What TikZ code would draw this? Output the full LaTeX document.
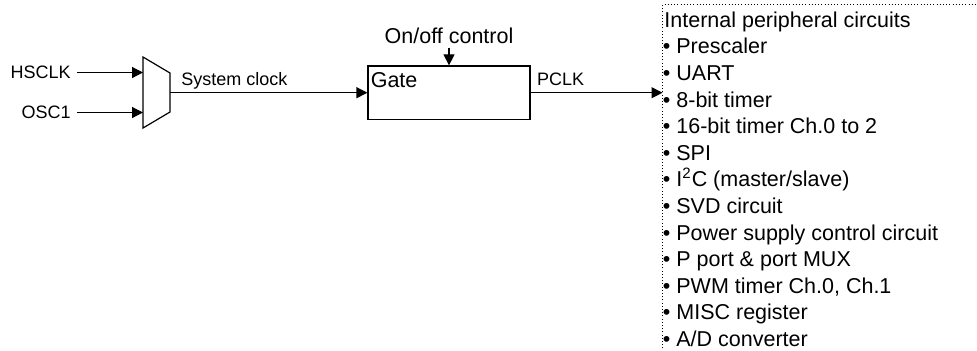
\documentclass[tikz,border=0pt]{standalone}
\usepackage{fontspec}
\setmainfont{Liberation Sans}
\usetikzlibrary{arrows.meta, positioning, calc}

\begin{document}
\begin{tikzpicture}[x=0.5pt, y=-0.5pt,
    sig/.style={line width=0.6pt, -{Triangle[length=5.5pt, width=5.5pt]}},
    smalltxt/.style={font=\fontsize{9}{10.8}\selectfont, inner sep=0pt},
    bigtxt/.style={font=\fontsize{10.75}{13.3}\selectfont, inner sep=0pt},
    gatebox/.style={draw, line width=0.6pt, minimum width=81pt, minimum height=26.75pt, inner sep=0pt},
    dotline/.style={line width=0.5pt, dash pattern=on 0.5pt off 1.1pt}]
  \useasboundingbox (0,0) rectangle (977,350);
  % Clock sources
  \node[smalltxt, inner xsep=3pt, anchor=east] (hsclk) at (77,72.5) {HSCLK};
  \node[smalltxt, inner xsep=3pt, anchor=east] (osc1) at (77,112.5) {OSC1};
  % Selector
  \draw[line width=0.6pt] (143,57) -- (170,73) -- (170,112) -- (143,128) -- cycle;
  \coordinate (muxin1) at (143,72.5);
  \coordinate (muxin2) at (143,112.5);
  \coordinate (muxout) at (170,92.7);
  \draw[sig] (hsclk) -- (muxin1);
  \draw[sig] (osc1) -- (muxin2);
  % Gate
  \node[gatebox, label={[bigtxt, anchor=north west, inner xsep=1.5pt, inner ysep=3.5pt]north west:Gate}]
    (gate) at (449,92.7) {};
  \node[bigtxt, inner sep=2pt, anchor=base] (onoff) at (449,43) {On/off control};
  \draw[sig] (onoff) -- (gate);
  \draw[sig] (muxout) -- (gate);
  \node[smalltxt, anchor=base west] (sysclk) at ($(muxout)+(11,-7)$) {System clock};
  % Peripheral block
  \node[inner sep=0pt, minimum width=157pt, minimum height=173pt, anchor=north west]
    (periph) at (662.5,4.7) {};
  \draw[dotline] (periph.south west) -- (periph.north west) -- (periph.north east);
  \draw[sig] (gate) -- (gate.east -| periph.west);
  \node[smalltxt, anchor=base west] (pclk) at ($(gate.east)+(6,-7.7)$) {PCLK};
  % List of circuits
  \node[bigtxt, anchor=base west] (title) at (664,27.3) {Internal peripheral circuits};
  \foreach \txt [count=\i] in {Prescaler, UART, 8-bit timer, 16-bit timer Ch.0 to 2, SPI,
      I\textsuperscript{2}C (master/slave), SVD circuit, Power supply control circuit,
      P port \& port MUX, {PWM timer Ch.0, Ch.1}, MISC register, A/D converter}
    \node[bigtxt, anchor=base west] (item\i) at (662.5,27.3+26.6*\i) {\textbullet\ \txt};
\end{tikzpicture}
\end{document}
